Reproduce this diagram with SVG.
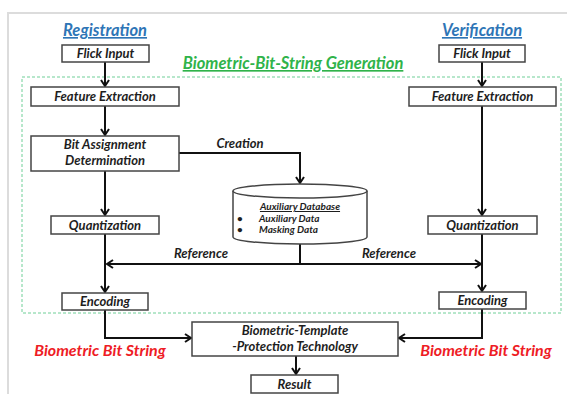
<svg xmlns="http://www.w3.org/2000/svg" width="567" height="394" viewBox="0 0 567 394">
<style>
.box{fill:#fff;stroke:#444;stroke-width:1.5}
.t{font-family:Lato,"Open Sans","Liberation Sans",sans-serif;font-weight:bold;font-style:italic;font-size:13px;fill:#1e1e1e;text-anchor:middle}
.s{font-size:10px}
.c{fill:none;stroke:#111;stroke-width:2}
.title{font-family:Lato,"Open Sans","Liberation Sans",sans-serif;font-weight:bold;font-style:italic;font-size:16.5px;text-anchor:middle;text-decoration:underline}
.red{font-family:Lato,"Open Sans","Liberation Sans",sans-serif;font-weight:bold;font-style:italic;font-size:16px;fill:#ee1c25;text-anchor:middle}
</style>
<defs>
<marker id="ah" markerUnits="userSpaceOnUse" markerWidth="12" markerHeight="12" refX="7" refY="5" orient="auto" viewBox="0 0 12 12">
<path d="M1,1 L7,5 L1,9" fill="none" stroke="#111" stroke-width="2"/>
</marker>
</defs>
<rect width="567" height="394" fill="#fff"/>
<path d="M8,394 V13 H567" fill="none" stroke="#dcdcdc" stroke-width="2"/>
<rect x="22" y="77" width="539" height="236" fill="none" stroke="#6fcf97" stroke-width="1" stroke-dasharray="3,2"/>
<text class="title" x="293" y="69" fill="#2fb34a">Biometric-Bit-String Generation</text>
<text class="title" x="105" y="36" fill="#2e75b6">Registration</text>
<text class="title" x="482" y="36" fill="#2e75b6">Verification</text>

<g id="connectors">
<path class="c" d="M105,62 V86" marker-end="url(#ah)"/>
<path class="c" d="M105,106 V135" marker-end="url(#ah)"/>
<path class="c" d="M105,171 V215" marker-end="url(#ah)"/>
<path class="c" d="M105,234 V292" marker-end="url(#ah)"/>
<path class="c" d="M179,153 H300 V183" marker-end="url(#ah)"/>
<path class="c" d="M300,244 V264"/>
<path class="c" d="M301,264 H107" marker-end="url(#ah)"/>
<path class="c" d="M299,264 H481" marker-end="url(#ah)"/>
<path class="c" d="M482,62 V86" marker-end="url(#ah)"/>
<path class="c" d="M482,106 V215" marker-end="url(#ah)"/>
<path class="c" d="M482,234 V291" marker-end="url(#ah)"/>
<path class="c" d="M105,310 V338 H191" marker-end="url(#ah)"/>
<path class="c" d="M482,309 V338 H399" marker-end="url(#ah)"/>
<path class="c" d="M296,356 V374" marker-end="url(#ah)"/>
<text class="t" x="240" y="148">Creation</text>
<text class="t" x="201" y="258">Reference</text>
<text class="t" x="389" y="258">Reference</text>
</g>

<g id="reg-flick"><rect class="box" x="62" y="45" width="87" height="17"/><text class="t" x="105.5" y="58">Flick Input</text></g>
<g id="reg-feature"><rect class="box" x="31" y="87" width="148" height="19"/><text class="t" x="105" y="101">Feature Extraction</text></g>
<g id="bit-assign"><rect class="box" x="31" y="136" width="148" height="35"/><text class="t" x="105" y="149">Bit Assignment</text><text class="t" x="105" y="165">Determination</text></g>
<g id="reg-quant"><rect class="box" x="51" y="216" width="108" height="18"/><text class="t" x="105" y="229.5">Quantization</text></g>
<g id="reg-enc"><rect class="box" x="62" y="293" width="86" height="17"/><text class="t" x="105" y="306">Encoding</text></g>

<g id="ver-flick"><rect class="box" x="439" y="45" width="86" height="17"/><text class="t" x="482" y="58">Flick Input</text></g>
<g id="ver-feature"><rect class="box" x="409" y="87" width="147" height="19"/><text class="t" x="482.5" y="101">Feature Extraction</text></g>
<g id="ver-quant"><rect class="box" x="428" y="216" width="109" height="18"/><text class="t" x="482.5" y="229.5">Quantization</text></g>
<g id="ver-enc"><rect class="box" x="439" y="292" width="87" height="17"/><text class="t" x="482.5" y="305">Encoding</text></g>

<g id="aux-db">
<path d="M233,191 V237 A67,7 0 0,0 367,237 V191" fill="#fff" stroke="#444" stroke-width="1.5"/>
<ellipse cx="300" cy="191" rx="67" ry="7" fill="#fff" stroke="#444" stroke-width="1.5"/>
<text class="t s" x="300" y="210" style="text-decoration:underline">Auxiliary Database</text>
<text class="t s" x="240" y="222">•</text>
<text class="t s" x="240" y="233">•</text>
<text class="t s" x="259" y="221.5" style="text-anchor:start">Auxiliary Data</text>
<text class="t s" x="259" y="232.5" style="text-anchor:start">Masking Data</text>
</g>

<g id="template"><rect class="box" x="192" y="322" width="206" height="34"/><text class="t" x="295" y="335">Biometric-Template</text><text class="t" x="295" y="351">-Protection Technology</text></g>
<g id="result"><rect class="box" x="251" y="375" width="87" height="18"/><text class="t" x="294.5" y="388.5">Result</text></g>

<text class="red" x="100" y="356">Biometric Bit String</text>
<text class="red" x="486" y="356">Biometric Bit String</text>
</svg>
